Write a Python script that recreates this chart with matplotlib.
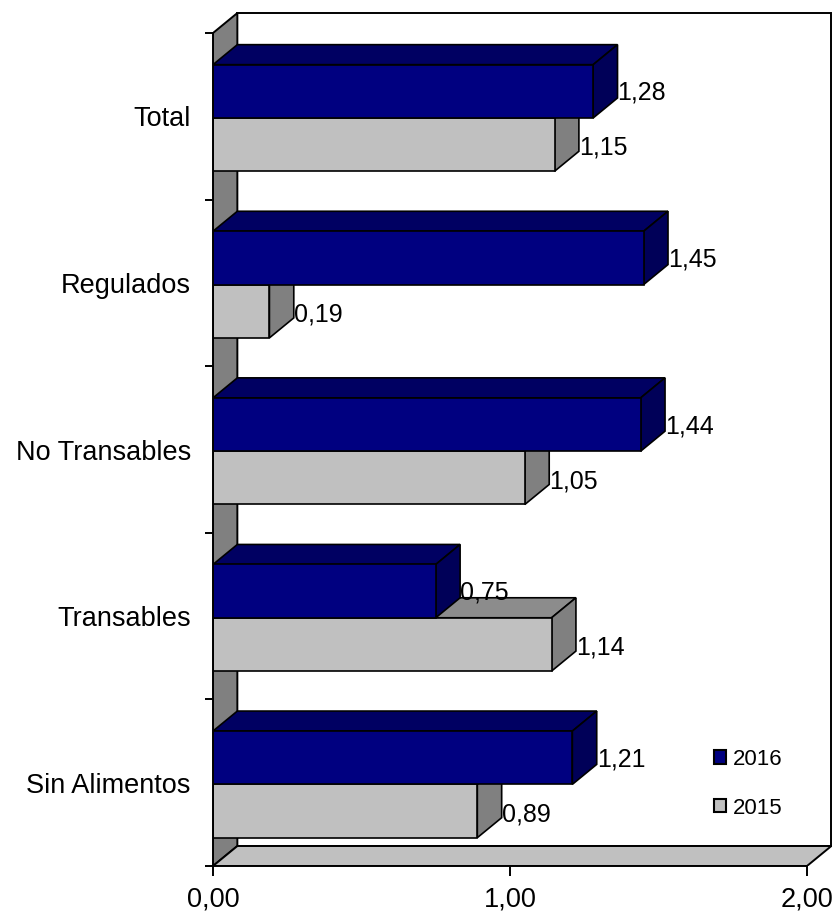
import matplotlib
matplotlib.use("Agg")
import matplotlib.pyplot as plt
from matplotlib.patches import Polygon, Patch

plt.rcParams['font.family'] = ['Liberation Sans', 'DejaVu Sans']

# datos (de abajo hacia arriba)
categorias = ["Sin Alimentos", "Transables", "No Transables", "Regulados", "Total"]
v2016 = [1.21, 0.75, 1.44, 1.45, 1.28]
v2015 = [0.89, 1.14, 1.05, 0.19, 1.15]
xticks = [0, 1, 2]
xticklabels = ["0,00", "1,00", "2,00"]

# profundidad del efecto 3D (en unidades de datos)
DX = 0.082
DY = 0.12
XMAX = 2.0

navy = ("#000080", "#000062", "#000058")
gris = ("#C0C0C0", "#8C8C8C", "#808080")


def poly(ax, pts, fc, z, lw=1.2):
    ax.add_patch(Polygon(pts, closed=True, facecolor=fc, edgecolor="black",
                         linewidth=lw, zorder=z))


def barra(ax, v, y0, h, cols, z):
    front, top, side = cols
    y1 = y0 + h
    # cara superior
    poly(ax, [(0, y1), (v, y1), (v + DX, y1 + DY), (DX, y1 + DY)], top, z)
    # cara lateral
    poly(ax, [(v, y0), (v + DX, y0 + DY), (v + DX, y1 + DY), (v, y1)], side, z)
    # cara frontal
    poly(ax, [(0, y0), (v, y0), (v, y1), (0, y1)], front, z)


fig = plt.figure(figsize=(8.4, 9.17), dpi=100)
W, H = 840, 917
px_x = 297.0
px_y = 166.6
ax = fig.add_axes([213 / W, (H - 866) / H, 2.105 * px_x / W, 5.14 * px_y / H])
ax.set_xlim(0, 2.105)
ax.set_ylim(0, 5.14)

n = len(categorias)

# paredes y piso
poly(ax, [(DX, DY), (XMAX + DX, DY), (XMAX + DX, n + DY), (DX, n + DY)], "white", 1, 1.4)
poly(ax, [(0, 0), (DX, DY), (DX, n + DY), (0, n)], "#808080", 2, 1.4)
poly(ax, [(0, 0), (XMAX, 0), (XMAX + DX, DY), (DX, DY)], "#C0C0C0", 2, 1.4)

h = 0.32
for i in range(n):
    z = 10 + (n - i) * 2
    barra(ax, v2015[i], i + 0.17, h, gris, z)
    barra(ax, v2016[i], i + 0.17 + h, h, navy, z + 1)

for i in range(n):
    ax.text(v2016[i] + DX, i + 0.17 + 1.5 * h - 0.01, f"{v2016[i]:.2f}".replace(".", ","),
            ha="left", va="center", fontsize=18, zorder=50)
    ax.text(v2015[i] + DX, i + 0.17 + 0.5 * h - 0.02, f"{v2015[i]:.2f}".replace(".", ","),
            ha="left", va="center", fontsize=18, zorder=50)

# ejes
for s in ["top", "right"]:
    ax.spines[s].set_visible(False)
ax.spines["bottom"].set_bounds(0, XMAX)
ax.spines["left"].set_bounds(0, n)
ax.spines["bottom"].set_zorder(60)
ax.spines["left"].set_zorder(60)
ax.spines["bottom"].set_linewidth(1.4)
ax.spines["left"].set_linewidth(1.4)
ax.set_xticks(xticks)
ax.set_xticklabels(xticklabels, fontsize=19.5)
ax.tick_params(axis="x", direction="out", length=7, width=1.4, pad=8)
ax.set_yticks(range(n + 1))
ax.set_yticklabels([])
ax.tick_params(axis="y", which="major", direction="out", length=6, width=1.4)
ax.set_yticks([i + 0.5 for i in range(n)], minor=True)
ax.set_yticklabels(categorias, minor=True, fontsize=19.5)
ax.tick_params(axis="y", which="minor", length=0, pad=16)

ax.legend(handles=[Patch(facecolor=navy[0], edgecolor="black", linewidth=1.5, label="2016"),
                   Patch(facecolor=gris[0], edgecolor="black", linewidth=1.5, label="2015")],
          loc="upper left", bbox_to_anchor=(1.65, 0.77), bbox_transform=ax.transData,
          frameon=False, fontsize=16, handlelength=0.55, handleheight=0.55,
          handletextpad=0.3, labelspacing=1.25, borderpad=0)

fig.savefig("out.png", dpi=100)
